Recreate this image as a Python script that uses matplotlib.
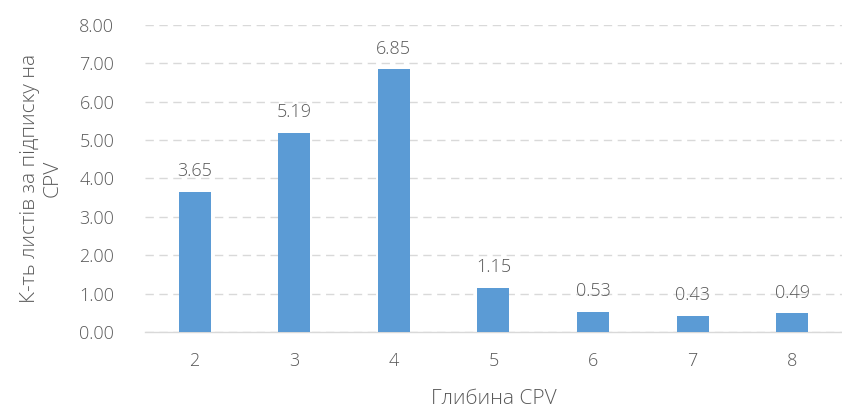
import matplotlib
matplotlib.use('Agg')
import matplotlib.pyplot as plt

depth = ['2', '3', '4', '5', '6', '7', '8']
sheets = [3.65, 5.19, 6.85, 1.15, 0.53, 0.43, 0.49]

plt.rcParams['font.family'] = ['Open Sans', 'DejaVu Sans']
plt.rcParams['font.weight'] = 'light'
txt = '#595959'

fig = plt.figure(figsize=(8.42, 4.08), dpi=100)
ax = fig.add_axes([0.172, 0.186, 0.828, 0.753])

x = list(range(len(depth)))
ax.bar(x, sheets, width=0.32, color='#5B9BD5', zorder=3)
for xi, v in zip(x, sheets):
    ax.text(xi, v + 0.3, f'{v:.2f}', ha='center', va='bottom', fontsize=13, color=txt,
            fontweight='light', zorder=4)

ax.set_xlim(-0.5, 6.5)
ax.set_ylim(0, 8)
ax.set_yticks(range(0, 9))
ax.set_yticklabels([f'{v:.2f}' for v in range(0, 9)], fontweight='light')
ax.set_xticks(x)
ax.set_xticklabels(depth, fontweight='light')
ax.yaxis.grid(True, linestyle=(0, (6, 4)), color='#D9D9D9', linewidth=1, zorder=0)
ax.tick_params(axis='both', length=0, labelsize=13, labelcolor=txt)
ax.tick_params(axis='y', pad=22)
ax.tick_params(axis='x', pad=14)
for s in ['top', 'right', 'left']:
    ax.spines[s].set_visible(False)
ax.spines['bottom'].set_color('#D9D9D9')
ax.spines['bottom'].set_linewidth(1)

ax.set_xlabel('Глибина CPV', fontsize=15, color=txt, fontweight='light', labelpad=14)
ax.set_ylabel('К-ть листів за підписку на\nCPV', fontsize=15, color=txt, fontweight='light', labelpad=12)

fig.savefig('out.png', dpi=100)
